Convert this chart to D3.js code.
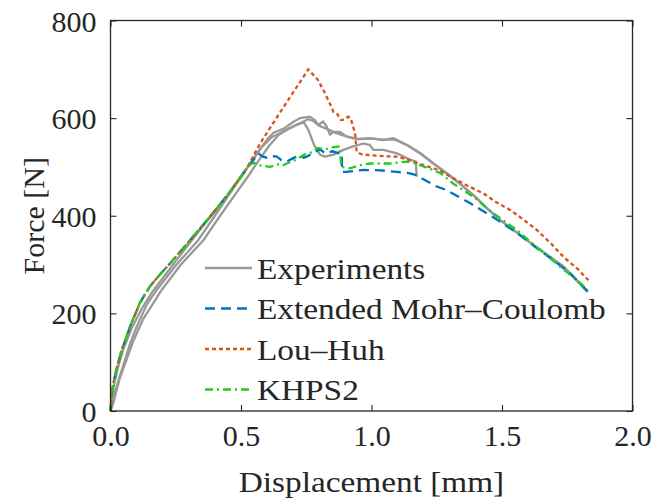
<!DOCTYPE html>
<html>
<head>
<meta charset="utf-8">
<script src="https://cdn.jsdelivr.net/npm/d3@7"></script>
<style>
  html, body { margin: 0; padding: 0; background: #fff; }
  svg { display: block; }
  text { font-family: "Liberation Serif", "DejaVu Serif", serif; fill: #262626; }
</style>
</head>
<body>
<svg id="chart" width="651" height="500"></svg>
<script>
// Force–displacement curves: three experiments and three fracture models
const xTicks = [0, 0.5, 1.0, 1.5, 2.0];
const yTicks = [0, 200, 400, 600, 800];

// shared elastic–plastic branch of the simulations
const simBase = [[0,0],[0.004,30],[0.012,60],[0.024,88],[0.043,125],[0.075,173],[0.113,222],[0.151,255],[0.19,280],[0.228,302],[0.305,350],[0.381,398],[0.458,449],[0.52,495]];

const expA = [[0,0],[0.005,25],[0.015,58],[0.03,92],[0.05,128],[0.08,168],[0.12,210],[0.16,244],[0.2,272],[0.25,307],[0.3,342],[0.35,376],[0.4,409],[0.44,436],[0.48,466],[0.52,496],[0.56,527],[0.6,556],[0.624,570],[0.662,578],[0.70,592],[0.726,600],[0.764,603],[0.783,596],[0.796,586],[0.815,593],[0.828,583],[0.841,566],[0.854,572],[0.879,572],[0.905,562],[0.943,557],[0.994,559],[1.045,555],[1.083,559],[1.135,545],[1.186,528],[1.237,507],[1.288,487],[1.339,466],[1.39,443],[1.441,416],[1.492,392],[1.543,371],[1.595,350],[1.646,330],[1.735,296],[1.828,244]];

const expB = [[0,0],[0.01,25],[0.03,62],[0.05,95],[0.075,138],[0.1,172],[0.139,218],[0.177,248],[0.25,298],[0.336,350],[0.40,400],[0.464,451],[0.52,495],[0.58,541],[0.62,562],[0.649,569],[0.68,578],[0.713,586],[0.739,593],[0.758,576],[0.78,545],[0.803,525],[0.822,521],[0.854,525],[0.892,535],[0.93,542],[0.969,548],[0.994,545],[1.007,535],[1.045,535],[1.097,528],[1.147,515],[1.17,511],[1.173,480]];

const expC = [[0,0],[0.01,15],[0.036,68],[0.087,143],[0.125,188],[0.164,221],[0.196,248],[0.27,300],[0.356,350],[0.42,400],[0.49,453],[0.53,483],[0.57,515],[0.61,545],[0.645,566],[0.68,577],[0.71,586],[0.735,590],[0.755,598],[0.775,595],[0.80,584],[0.83,578],[0.86,570],[0.9,563],[0.95,557],[1.0,558],[1.05,556],[1.09,556],[1.14,544],[1.19,527],[1.24,506],[1.29,486],[1.34,465],[1.39,442],[1.44,416],[1.49,392],[1.54,372],[1.6,348],[1.65,329],[1.74,294],[1.828,244]];

const emc = simBase.concat([[0.545,512],[0.566,528],[0.58,522],[0.598,519],[0.615,523],[0.637,521],[0.655,514],[0.675,511],[0.70,518],[0.726,524],[0.74,519],[0.752,521],[0.78,530],[0.803,536],[0.822,528],[0.85,532],[0.875,528],[0.886,528],[0.887,490],[0.905,490],[0.969,494],[1.033,493],[1.097,490],[1.147,487],[1.173,483],[1.211,471],[1.25,460],[1.29,452],[1.33,440],[1.377,426],[1.46,399],[1.56,364],[1.65,327],[1.684,314],[1.761,282],[1.831,244]]);

const louHuh = simBase.concat([[0.573,548],[0.65,612],[0.758,700],[0.795,678],[0.819,654],[0.843,627],[0.854,613],[0.867,610],[0.883,596],[0.895,597],[0.911,603],[0.92,600],[0.937,569],[0.943,531],[0.96,526],[0.994,524],[1.05,522],[1.097,521],[1.147,514],[1.17,509],[1.22,500],[1.265,492],[1.313,477],[1.37,461],[1.428,446],[1.48,427],[1.531,412],[1.58,393],[1.633,371],[1.69,342],[1.735,316],[1.79,291],[1.831,268]]);

const khps2 = simBase.concat([[0.534,505],[0.55,508],[0.575,503],[0.611,500],[0.64,505],[0.66,503],[0.675,507],[0.70,512],[0.752,528],[0.775,530],[0.795,539],[0.82,536],[0.85,540],[0.879,542],[0.884,500],[0.918,497],[0.95,503],[0.994,507],[1.071,507],[1.135,511],[1.17,507],[1.22,497],[1.265,487],[1.313,466],[1.39,439],[1.467,405],[1.556,371],[1.646,330],[1.722,296],[1.786,268],[1.825,251]]);

const seriesNames = ["Experiments", "Extended Mohr\u2013Coulomb", "Lou\u2013Huh", "KHPS2"];
const seriesColors = ["#999999", "#0072BD", "#D95319", "#1fcc1f"];
const seriesDash = [null, "10,6", "4,3", "8,4,2,4"];

// the serif face used is narrower than the typeset original, so text is widened a little
const widen = 1.11;

const svg = d3.select("#chart");
const m = { left: 110.5, right: 632.5, top: 20.5, bottom: 411 };

const x = d3.scaleLinear().domain([0, 2]).range([m.left, m.right]);
const y = d3.scaleLinear().domain([0, 800]).range([m.bottom, m.top]);

const line = d3.line().x(d => x(d[0])).y(d => y(d[1]));

function stretch(sel) {
  sel.each(function () {
    const w = this.getComputedTextLength();
    d3.select(this).attr("textLength", w * widen).attr("lengthAdjust", "spacingAndGlyphs");
  });
}

const plot = svg.append("g");

// experiments first, models drawn over them
[expA, expB, expC].forEach(d => {
  plot.append("path").attr("d", line(d))
    .attr("fill", "none").attr("stroke", seriesColors[0])
    .attr("stroke-width", 2.3).attr("stroke-linejoin", "round");
});

[[emc, 1], [louHuh, 2], [khps2, 3]].forEach(([d, i]) => {
  plot.append("path").attr("d", line(d))
    .attr("fill", "none").attr("stroke", seriesColors[i])
    .attr("stroke-width", 2.3)
    .attr("stroke-dasharray", seriesDash[i]);
});

// axes box with inward ticks
const axisColor = "#262626";
const tickLen = 6;
const gx = svg.append("g").attr("transform", `translate(0,${m.bottom})`)
  .call(d3.axisBottom(x).tickValues(xTicks).tickFormat(d3.format(".1f")).tickSizeInner(-tickLen).tickSizeOuter(0).tickPadding(14));
const gxt = svg.append("g").attr("transform", `translate(0,${m.top})`)
  .call(d3.axisTop(x).tickValues(xTicks).tickFormat("").tickSizeInner(-tickLen).tickSizeOuter(0));
const gy = svg.append("g").attr("transform", `translate(${m.left},0)`)
  .call(d3.axisLeft(y).tickValues(yTicks).tickFormat(d3.format("d")).tickSizeInner(-tickLen).tickSizeOuter(0).tickPadding(14));
const gyr = svg.append("g").attr("transform", `translate(${m.right},0)`)
  .call(d3.axisRight(y).tickValues(yTicks).tickFormat("").tickSizeInner(-tickLen).tickSizeOuter(0));

[gx, gxt, gy, gyr].forEach(g => {
  g.select(".domain").remove();
  g.selectAll("line").attr("stroke", axisColor).attr("stroke-width", 1.1);
  g.selectAll("text").attr("font-size", 30).attr("font-family", null).attr("fill", axisColor);
});
gx.selectAll("text").attr("dy", "0.71em");
gy.selectAll("text").attr("dy", "0.35em");

svg.append("rect")
  .attr("x", m.left).attr("y", m.top)
  .attr("width", m.right - m.left).attr("height", m.bottom - m.top)
  .attr("fill", "none").attr("stroke", axisColor).attr("stroke-width", 1.3);

// axis titles
svg.append("text").attr("x", (m.left + m.right) / 2).attr("y", 492)
  .attr("text-anchor", "middle").attr("font-size", 30)
  .text("Displacement [mm]").call(stretch);
svg.append("text")
  .attr("transform", `translate(44,${(m.top + m.bottom) / 2}) rotate(-90)`)
  .attr("text-anchor", "middle").attr("font-size", 30)
  .text("Force [N]");

// legend
const legY0 = 268, legDy = 40.5;
seriesNames.forEach((name, i) => {
  const yy = legY0 + i * legDy;
  svg.append("line").attr("x1", 205).attr("x2", 252).attr("y1", yy).attr("y2", yy)
    .attr("stroke", seriesColors[i]).attr("stroke-width", 2.3)
    .attr("stroke-dasharray", seriesDash[i]);
  svg.append("text").attr("x", 257).attr("y", yy).attr("dy", "0.35em")
    .attr("font-size", 30).text(name).call(stretch);
});
</script>
</body>
</html>
